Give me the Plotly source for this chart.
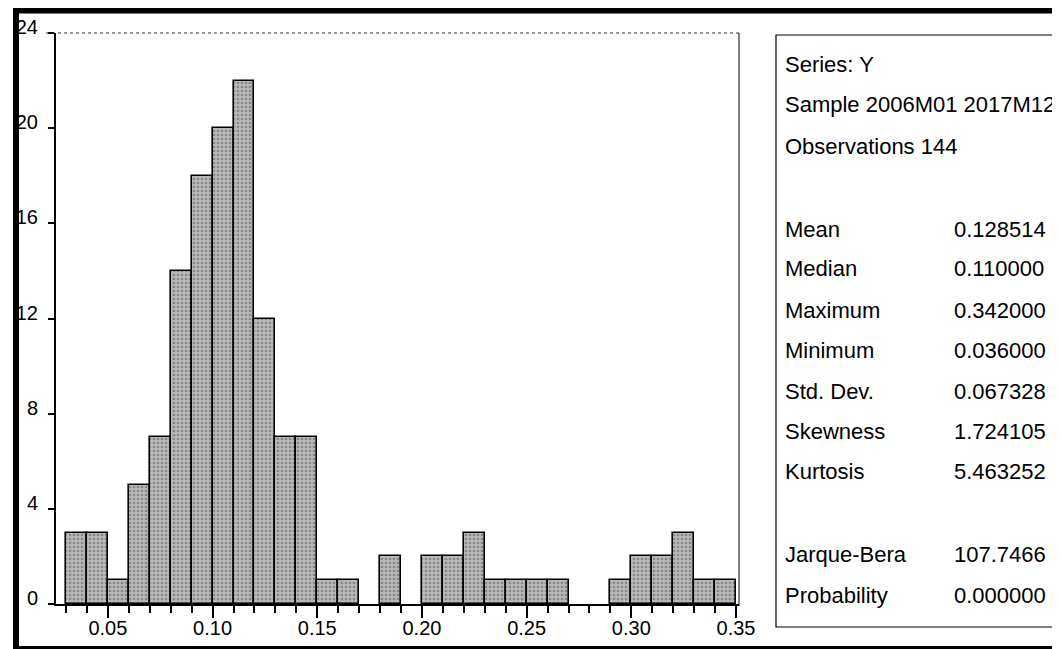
import plotly.graph_objects as go

W, H = 1060, 649

# ---- data ----
bin_lower = [0.03, 0.04, 0.05, 0.06, 0.07, 0.08, 0.09, 0.10, 0.11, 0.12, 0.13,
             0.14, 0.15, 0.16, 0.17, 0.18, 0.19, 0.20, 0.21, 0.22, 0.23, 0.24,
             0.25, 0.26, 0.27, 0.28, 0.29, 0.30, 0.31, 0.32, 0.33, 0.34]
counts = [3, 3, 1, 5, 7, 14, 18, 20, 22, 12, 7, 7, 1, 1, 0, 2, 0, 2, 2, 3, 1, 1,
          1, 1, 0, 0, 1, 2, 2, 3, 1, 1]
bin_width = 0.01
x_tick_vals = [0.05, 0.10, 0.15, 0.20, 0.25, 0.30, 0.35]
x_tick_text = ["0.05", "0.10", "0.15", "0.20", "0.25", "0.30", "0.35"]
y_tick_vals = [0, 4, 8, 12, 16, 20, 24]

header_lines = ["Series: Y", "Sample 2006M01 2017M12", "Observations 144"]
stat_names = ["Mean", "Median", "Maximum", "Minimum", "Std. Dev.", "Skewness", "Kurtosis"]
stat_values = ["0.128514", "0.110000", "0.342000", "0.036000", "0.067328", "1.724105", "5.463252"]
test_names = ["Jarque-Bera", "Probability"]
test_values = ["107.7466", "0.000000"]

FONT = "Liberation Sans, Arial, sans-serif"

def px(x):
    return x / W

def py(y):
    return 1 - y / H

fig = go.Figure()
fig.add_trace(go.Bar(
    x=bin_lower, y=[c if c > 0 else None for c in counts],
    width=bin_width, offset=0,
    marker=dict(color="#a4a4a4",
                line=dict(color="black", width=1.6),
                pattern=dict(shape=".", fgcolor="#555555", bgcolor="#b8b8b8",
                             size=4, solidity=0.35)),
    hoverinfo="skip",
))

shapes = []
# outer thick frame
shapes.append(dict(type="rect", xref="paper", yref="paper",
                   x0=px(8), x1=px(1056), y0=py(641), y1=py(2.5),
                   line=dict(color="black", width=6)))
# stats box
shapes.append(dict(type="rect", xref="paper", yref="paper",
                   x0=px(768), x1=px(1055), y0=py(619), y1=py(27),
                   line=dict(color="black", width=1.2)))
# top frame line of plot
shapes.append(dict(type="line", xref="paper", yref="paper",
                   x0=px(38), x1=px(731), y0=py(25), y1=py(25),
                   line=dict(color="#333333", width=1.2, dash="dot")))
# right frame line of plot
shapes.append(dict(type="line", xref="paper", yref="paper",
                   x0=px(731), x1=px(731), y0=py(25), y1=py(598),
                   line=dict(color="black", width=1)))

annotations = []
def txt(x, y, s):
    annotations.append(dict(xref="paper", yref="paper", x=px(x), y=py(y), text=s,
                            showarrow=False, xanchor="left", yanchor="middle",
                            font=dict(family=FONT, size=22, color="black")))

header_y = [56, 97, 138]
for s, y in zip(header_lines, header_y):
    txt(775, y, s)
stat_y = [221, 261, 302, 342, 383, 424, 464]
for n, v, y in zip(stat_names, stat_values, stat_y):
    txt(775, y, n)
    txt(944, y, v)
test_y = [546, 587]
for n, v, y in zip(test_names, test_values, test_y):
    txt(775, y, n)
    txt(944, y, v)

fig.update_layout(
    width=W, height=H,
    margin=dict(l=0, r=0, t=0, b=0, autoexpand=False),
    paper_bgcolor="white", plot_bgcolor="white",
    showlegend=False, bargap=0,
    shapes=shapes, annotations=annotations,
    xaxis=dict(domain=[px(48), px(731)], range=[0.02522, 0.35143],
               tickvals=x_tick_vals, ticktext=x_tick_text,
               ticks="outside", ticklen=12, tickwidth=1.5, tickcolor="black",
               ticklabelstandoff=-7,
               minor=dict(dtick=0.01, tick0=0.0, ticks="outside", ticklen=7,
                          tickwidth=1.5, tickcolor="black"),
               showline=True, linecolor="black", linewidth=2,
               showgrid=False, zeroline=False,
               tickfont=dict(family=FONT, size=20, color="black")),
    yaxis=dict(domain=[py(596), py(25)], range=[0, 24],
               tickvals=y_tick_vals,
               ticks="outside", ticklen=6, tickwidth=1.5, tickcolor="black",
               ticklabelstandoff=6, ticklabelshift=-6,
               showline=True, linecolor="black", linewidth=2,
               showgrid=False, zeroline=False,
               tickfont=dict(family=FONT, size=20, color="black")),
)

fig.write_html("out.html")
